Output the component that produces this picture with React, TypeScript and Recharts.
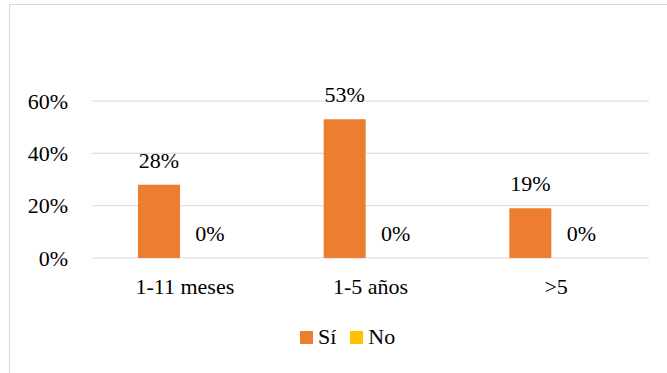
import React from "react";
import {
  BarChart,
  Bar,
  XAxis,
  YAxis,
  CartesianGrid,
  Legend,
  LabelList,
} from "recharts";

// tenure groups and share of answers per group (percent)
const categories = ["1-11 meses", "1-5 años", ">5"];
const siValues = [28, 53, 19];
const noValues = [0, 0, 0];
const yTicks = [0, 20, 40, 60];

const SI_COLOR = "#ED7D31";
const NO_COLOR = "#FFC000";
const FONT = "'Times New Roman', 'Liberation Serif', serif";
const FONT_SIZE = 22;

const chartData = categories.map((name, i) => ({
  name,
  si: siValues[i],
  no: noValues[i],
}));

const pct = (v: any) => `${v}%`;

function LegendBox() {
  const items = [
    { label: "Sí", color: SI_COLOR },
    { label: "No", color: NO_COLOR },
  ];
  return (
    <div style={{ display: "flex", alignItems: "center", height: 22, fontFamily: FONT, fontSize: FONT_SIZE, color: "#000" }}>
      {items.map((it) => (
        <div key={it.label} style={{ display: "flex", alignItems: "center", marginRight: 14 }}>
          <span style={{ width: 13, height: 13, background: it.color, marginRight: 5, display: "inline-block" }} />
          <span>{it.label}</span>
        </div>
      ))}
    </div>
  );
}

const textStyle = { fontFamily: FONT };
const tickStyle = { fill: "#000", fontSize: FONT_SIZE, style: textStyle };

export default function App() {
  return (
    <div style={{ position: "absolute", left: 0, top: 0, width: 667, height: 373, background: "#fff", fontFamily: FONT }}>
      <div
        style={{
          position: "absolute",
          left: 9,
          top: 4,
          right: 0,
          bottom: 0,
          borderLeft: "1px solid #D9D9D9",
          borderTop: "1px solid #D9D9D9",
        }}
      />
      <BarChart
        width={667}
        height={373}
        data={chartData}
        margin={{ top: 101, right: 18, bottom: 63, left: 0 }}
        barSize={42}
        barGap={9}
        style={{ position: "absolute", left: 0, top: 0, fontFamily: FONT }}
      >
        <CartesianGrid horizontal vertical={false} stroke="#D9D9D9" strokeWidth={1} />
        <XAxis
          dataKey="name"
          axisLine={false}
          tickLine={false}
          tickSize={0}
          tickMargin={20}
          tick={tickStyle}
        />
        <YAxis
          width={92}
          domain={[0, 60]}
          ticks={yTicks}
          tickFormatter={pct}
          axisLine={false}
          tickLine={false}
          tickSize={0}
          tickMargin={24}
          tick={tickStyle}
        />
        <Legend
          verticalAlign="bottom"
          content={() => <LegendBox />}
          wrapperStyle={{ left: 300, top: 326, bottom: "auto", width: "auto" }}
        />
        <Bar dataKey="si" name="Sí" fill={SI_COLOR} isAnimationActive={false}>
          <LabelList dataKey="si" position="top" offset={17} formatter={pct} fill="#000" fontSize={FONT_SIZE} style={textStyle} />
        </Bar>
        <Bar dataKey="no" name="No" fill={NO_COLOR} minPointSize={0.01} isAnimationActive={false}>
          <LabelList dataKey="no" position="top" offset={17} formatter={pct} fill="#000" fontSize={FONT_SIZE} style={textStyle} />
        </Bar>
      </BarChart>
    </div>
  );
}
